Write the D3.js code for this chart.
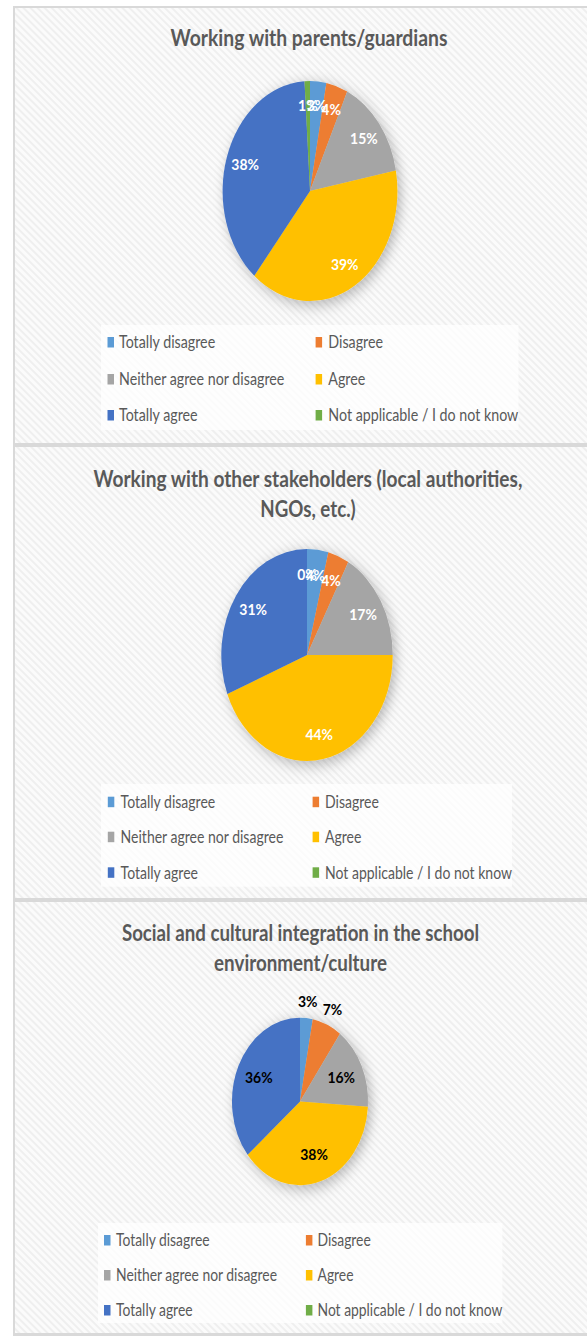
<!DOCTYPE html>
<html>
<head>
<meta charset="utf-8">
<script src="https://cdn.jsdelivr.net/npm/d3@7"></script>
<style>
  html, body { margin: 0; padding: 0; background: #ffffff; }
  svg { display: block; }
</style>
</head>
<body>
<script>
// ---------- DATA ----------
const categories = [
  "Totally disagree",
  "Disagree",
  "Neither agree nor disagree",
  "Agree",
  "Totally agree",
  "Not applicable / I do not know"
];
const colors = ["#5B9BD5", "#ED7D31", "#A5A5A5", "#FFC000", "#4472C4", "#70AD47"];

const titleParents = ["Working with parents/guardians"];
const titleStakeholders = ["Working with other stakeholders (local authorities,", "NGOs, etc.)"];
const titleIntegration = ["Social and cultural integration in the school", "environment/culture"];

// percentages, in category order
const valuesParents = [3, 4, 15, 39, 38, 1];
const valuesStakeholders = [4, 4, 17, 44, 31, 0];
const valuesIntegration = [3, 7, 16, 38, 36, null];

// ---------- LAYOUT (styles / positions only) ----------
const W = 587, H = 1337;
const layout = [
  { title: titleParents, values: valuesParents,
    titleX: 309, titleY: [46], titleW: [277],
    cx: 310, cy: 191, rx: 87.4, ry: 110,
    labelColor: "#ffffff", rIn: 0.78, rOut: null, smallCut: 0,
    box: [101, 325, 518.5, 430], rows: [342, 379, 415],
    sq: [107.5, 315.6], tx: [119, 328.3], naW: 190 },
  { title: titleStakeholders, values: valuesStakeholders,
    titleX: 308, titleY: [486.5, 517], titleW: [429, 95.5],
    cx: 307, cy: 655, rx: 85.7, ry: 106,
    labelColor: "#ffffff", rIn: 0.76, rOut: null, smallCut: 0,
    box: [101, 784, 512, 886.7], rows: [801.7, 836.7, 872.3],
    sq: [107.8, 312.6], tx: [120.6, 325], naW: 187 },
  { title: titleIntegration, values: valuesIntegration,
    titleX: 300.5, titleY: [941, 971], titleW: [357.5, 173],
    cx: 300, cy: 1101.5, rx: 68, ry: 83.7,
    labelColor: "#000000", rIn: 0.67, rOut: 1.2, smallCut: 8,
    box: [98, 1223, 502.4, 1323], rows: [1240, 1275, 1310],
    sq: [104, 305.9], tx: [116, 317.5], naW: 185 }
];

const svg = d3.select("body").append("svg")
  .attr("width", W).attr("height", H)
  .attr("viewBox", `0 0 ${W} ${H}`);

const defs = svg.append("defs");
const pat = defs.append("pattern")
  .attr("id", "hatch")
  .attr("patternUnits", "userSpaceOnUse")
  .attr("width", 5).attr("height", 5)
  .attr("patternTransform", "rotate(-45)");
pat.append("rect").attr("width", 5).attr("height", 5).attr("fill", "#fbfbfb");
pat.append("rect").attr("width", 2).attr("height", 5).attr("fill", "#efefef");

const shadow = defs.append("filter").attr("id", "pieShadow")
  .attr("x", "-30%").attr("y", "-30%").attr("width", "160%").attr("height", "160%");
shadow.append("feDropShadow")
  .attr("dx", 3).attr("dy", 3).attr("stdDeviation", 6)
  .attr("flood-color", "#000").attr("flood-opacity", 0.28);

// ---------- FRAME ----------
const frameColor = "#d9d9d9";
svg.append("rect").attr("x", 13).attr("y", 6).attr("width", W - 13).attr("height", 1330)
  .attr("fill", "url(#hatch)");
svg.append("rect").attr("x", 13).attr("y", 6).attr("width", 2).attr("height", 1330).attr("fill", frameColor);
svg.append("rect").attr("x", 13).attr("y", 6).attr("width", W - 13).attr("height", 2).attr("fill", frameColor);
svg.append("rect").attr("x", 13).attr("y", 443).attr("width", W - 13).attr("height", 4).attr("fill", frameColor);
svg.append("rect").attr("x", 13).attr("y", 898).attr("width", W - 13).attr("height", 4).attr("fill", frameColor);
svg.append("rect").attr("x", 13).attr("y", 1333).attr("width", W - 13).attr("height", 3).attr("fill", frameColor);

const textColor = "#595959";
const FONT = "Lato, 'Noto Sans', 'Liberation Sans', sans-serif";
const TITLE_CAP = 16;   // target cap height of titles (px)

const color = d3.scaleOrdinal().domain(categories).range(colors);

layout.forEach((L) => {
  const g = svg.append("g");

  // Title: font size chosen so the natural width matches, then stretched vertically
  L.title.forEach((line, i) => {
    const tg = g.append("g");
    const t = tg.append("text")
      .attr("x", 0).attr("y", 0)
      .attr("text-anchor", "middle")
      .attr("font-family", FONT).attr("font-weight", 700)
      .attr("font-size", 20).attr("fill", textColor)
      .text(line);
    const nat = t.node().getComputedTextLength();
    const fs = 20 * L.titleW[i] / nat;
    t.attr("font-size", fs);
    const sy = TITLE_CAP / (0.72 * fs);
    tg.attr("transform", `translate(${L.titleX},${L.titleY[i]}) scale(1,${sy})`);
  });

  // Pie
  const data = categories.map((c, i) => ({ cat: c, value: L.values[i] }));
  const pie = d3.pie().sort(null).value(d => d.value || 0);
  const arcs = pie(data);
  const arc = d3.arc().innerRadius(0).outerRadius(L.rx);
  const k = L.ry / L.rx;

  const pg = g.append("g")
    .attr("transform", `translate(${L.cx},${L.cy}) scale(1,${k})`)
    .attr("filter", "url(#pieShadow)");
  pg.selectAll("path").data(arcs).enter().append("path")
    .attr("d", arc)
    .attr("fill", d => color(d.data.cat));

  // Data labels
  arcs.forEach(a => {
    if (a.data.value === null || a.data.value === undefined) return;
    const outside = L.rOut && a.data.value < L.smallCut;
    const rr = (outside ? L.rOut : L.rIn) * L.rx;
    const mid = (a.startAngle + a.endAngle) / 2;
    const px = Math.sin(mid) * rr;
    const py = -Math.cos(mid) * rr * k;
    const t = g.append("text")
      .attr("x", L.cx + px).attr("y", L.cy + py)
      .attr("dy", "0.36em")
      .attr("text-anchor", "middle")
      .attr("font-family", FONT).attr("font-weight", 700)
      .attr("font-size", 15.5).attr("fill", L.labelColor)
      .text(a.data.value + "%");
    const w = t.node().getComputedTextLength();
    t.attr("textLength", w * 0.9).attr("lengthAdjust", "spacingAndGlyphs");
  });

  // Legend
  const [bx0, by0, bx1, by1] = L.box;
  g.append("rect").attr("x", bx0).attr("y", by0)
    .attr("width", bx1 - bx0).attr("height", by1 - by0)
    .attr("fill", "#ffffff").attr("fill-opacity", 0.75);

  const items = categories.map((c, i) => ({ cat: c, row: Math.floor(i / 2), col: i % 2 }));
  const texts = [];
  items.forEach(it => {
    const y = L.rows[it.row];
    g.append("rect")
      .attr("x", L.sq[it.col]).attr("y", y - 5)
      .attr("width", 6.5).attr("height", 10.5)
      .attr("fill", color(it.cat));
    const t = g.append("text")
      .attr("x", L.tx[it.col]).attr("y", y + 6.3)
      .attr("font-family", FONT).attr("font-size", 17.5)
      .attr("fill", textColor)
      .text(it.cat);
    texts.push(t);
  });
  // condense legend text to match the reference width of the longest label
  const naNode = texts[5].node();
  const factor = L.naW / naNode.getComputedTextLength();
  texts.forEach(t => {
    const w = t.node().getComputedTextLength();
    t.attr("textLength", w * factor).attr("lengthAdjust", "spacingAndGlyphs");
  });
});
</script>
</body>
</html>
